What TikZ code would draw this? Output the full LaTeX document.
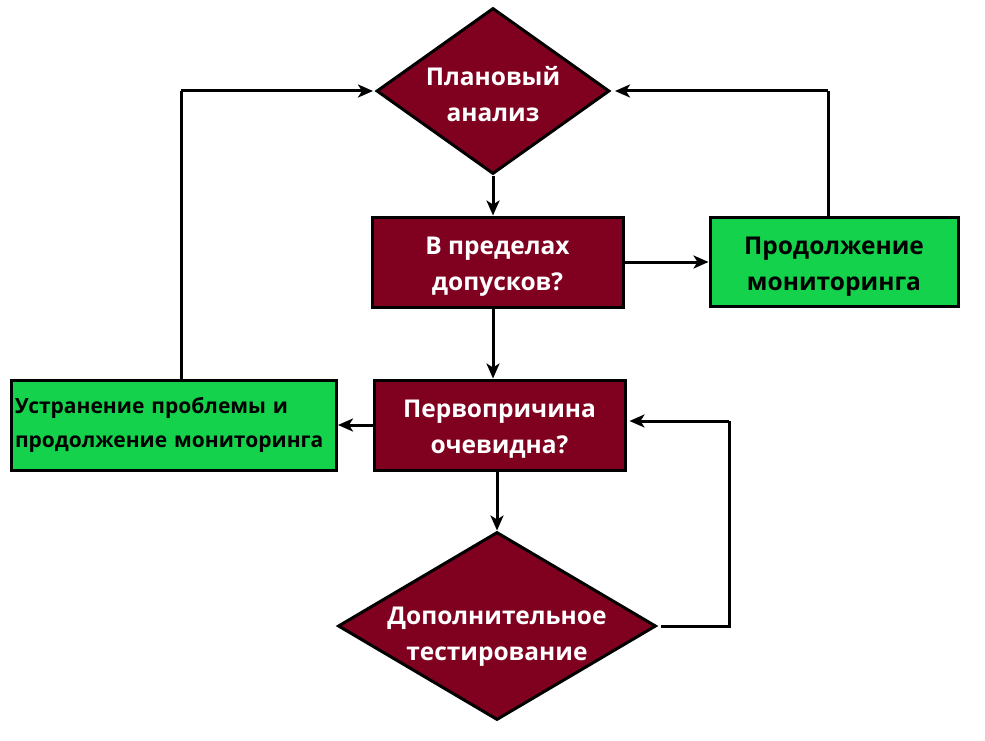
\documentclass[tikz,border=0pt]{standalone}
\usepackage{fontspec}
\setmainfont{Open Sans}[BoldFont={Open Sans Bold}]
\usetikzlibrary{shapes.geometric,arrows.meta}
\definecolor{dred}{RGB}{128,0,32}
\definecolor{lgreen}{RGB}{20,210,75}
\newcommand{\lowtext}[2]{\raisebox{#1}[0pt][0pt]{\begin{tabular}{@{}c@{}}#2\end{tabular}}}
\begin{document}
\begin{tikzpicture}[x=1pt,y=-1pt,
  bigtext/.style={font=\bfseries\fontsize{24.5}{36}\selectfont},
  redbox/.style={draw=black,line width=3pt,fill=dred,text=white,bigtext,align=center,inner sep=0pt},
  greenbox/.style={draw=black,line width=3pt,fill=lgreen,text=black,bigtext,align=center,inner sep=0pt},
  decision/.style={diamond,draw=black,line width=3pt,fill=dred,text=white,bigtext,align=center,inner sep=0pt},
  conn/.style={line width=3pt,-{Stealth[length=15pt,width=13pt,inset=4pt]}},
  plain/.style={line width=3pt}]
\useasboundingbox (0,0) rectangle (985,741);
\node[decision,minimum width=233pt,minimum height=166pt,aspect=1.4] (plan) at (493,91) {\lowtext{-12pt}{Плановый\\анализ}};
\node[redbox,minimum width=251pt,minimum height=90pt] (tol) at (497.5,262) {\lowtext{-10pt}{В пределах\\допусков?}};
\node[greenbox,minimum width=248pt,minimum height=89pt] (cont) at (834,262) {\lowtext{-10pt}{Продолжение\\мониторинга}};
\node[redbox,minimum width=251pt,minimum height=90pt] (root) at (499.5,425) {\lowtext{-10pt}{Первопричина\\очевидна?}};
\node[greenbox,minimum width=325pt,minimum height=90pt,align=left,text width=318pt,font=\bfseries\fontsize{21}{34}\selectfont] (fix) at (174,425) {Устранение проблемы и\\продолжение мониторинга};
\node[decision,minimum width=318pt,minimum height=188pt,aspect=1.69] (test) at (497,626) {\lowtext{-16pt}{Дополнительное\\тестирование}};
\coordinate (fixup) at (181,91);
\coordinate (contup) at (828,91);
\coordinate (testr) at (729,626);
\coordinate (testu) at (729,421);
\draw[conn] (plan.south) -- (plan.south |- tol.north);
\draw[conn] (tol.east) -- (cont.west);
\draw[conn] (plan.south |- tol.south) -- (plan.south |- root.north);
\draw[conn] (root.west) -- (fix.east);
\draw[conn] (test.north |- root.south) -- (test.north);
\draw[plain] (fix.north -| fixup) -- (fixup);
\draw[conn] (fixup) -- ([xshift=-2pt]plan.west);
\draw[plain] (cont.north -| contup) -- (contup);
\draw[conn] (contup) -- ([xshift=4pt]plan.east);
\draw[plain] ([xshift=3pt]test.east) -- (testr) -- (testu);
\draw[conn] (testu) -- ([xshift=3pt]root.east |- testu);
\end{tikzpicture}
\end{document}
